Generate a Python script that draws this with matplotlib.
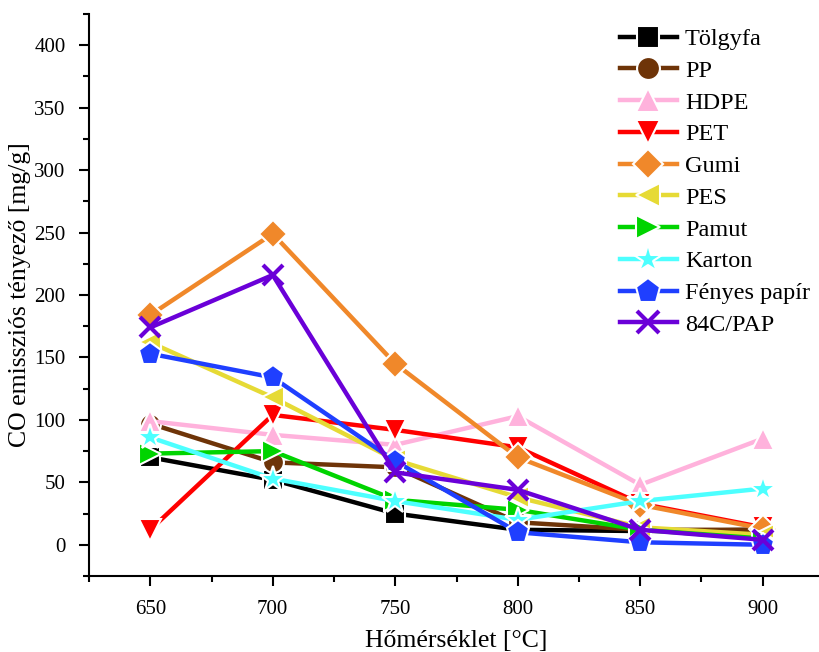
import matplotlib.pyplot as plt
import numpy as np

plt.rcParams['font.family'] = ['Liberation Serif', 'DejaVu Serif']

# Hőmérséklet [°C]
temps = [650, 700, 750, 800, 850, 900]

# CO emission factor [mg/g]
names = ["Tölgyfa", "PP", "HDPE", "PET", "Gumi", "PES", "Pamut", "Karton",
         "Fényes papír", "84C/PAP"]
tolgyfa = [70, 52, 25, 12, 11, 12]
pp = [97, 66, 62, 18, 12, 12]
hdpe = [99, 88, 80, 103, 48, 85]
pet = [12, 104, 92, 78, 33, 14]
gumi = [184, 249, 145, 70, 32, 13]
pes = [162, 118, 68, 38, 14, 8]
pamut = [73, 75, 36, 28, 12, 5]
karton = [86, 53, 35, 20, 35, 45]
fenyes = [153, 134, 67, 10, 2, 0]
pap84c = [174, 216, 58, 44, 12, 4]

series = [tolgyfa, pp, hdpe, pet, gumi, pes, pamut, karton, fenyes, pap84c]
colors = ['#000000', '#6E3408', '#FFB2DC', '#FF0000', '#F0882A',
          '#E6DA35', '#00D400', '#4DFFFF', '#1F3FFF', '#6A00D8']
markers = ['s', 'o', '^', 'v', 'D', '<', '>', '*', 'p', 'x']
sizes = [14, 15, 16, 16, 14, 16, 16, 19, 17, 15]

fig = plt.figure(figsize=(8.2, 6.52), dpi=100)
ax = fig.add_axes([89/820, 76/652, (824-89)/820, (576-14)/652])

for vals, name, c, m, s in zip(series, names, colors, markers, sizes):
    if m == 'x':
        ax.plot(temps, vals, color=c, lw=3.2, marker=m, ms=s, mew=3, label=name)
    else:
        ax.plot(temps, vals, color=c, lw=3.2, marker=m, ms=s, mec='white', mew=1.5,
                label=name)

ax.set_xlim(625, 925)
ax.set_ylim(-25, 425)
ax.set_xticks(np.arange(650, 901, 50))
ax.set_xticks(np.arange(625, 926, 25), minor=True)
ax.set_yticks(np.arange(0, 401, 50))
ax.set_yticks(np.arange(-25, 426, 25), minor=True)
ax.spines['top'].set_visible(False)
ax.spines['right'].set_visible(False)
ax.spines['left'].set_linewidth(1.5)
ax.spines['bottom'].set_linewidth(1.5)
ax.tick_params(which='major', direction='out', length=7, width=1.5, labelsize=15, pad=10)
ax.tick_params(which='minor', direction='out', length=4, width=1.5)

ax.set_xlabel("Hőmérséklet [°C]", fontsize=18.5, labelpad=8)
ax.set_ylabel("CO emissziós tényező [mg/g]", fontsize=18.5, labelpad=2)

ax.legend(loc='upper left', bbox_to_anchor=(0.699, 1.005), frameon=False, fontsize=17.5,
          handlelength=2.35, handletextpad=0.33, labelspacing=0.4, borderaxespad=0.3,
          markerscale=1.1)

fig.savefig("out.png", dpi=100)
